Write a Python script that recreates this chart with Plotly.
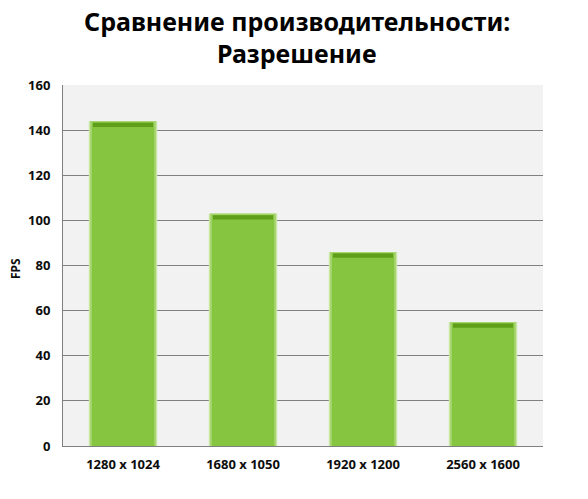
import plotly.graph_objects as go

resolutions = ["1280 x 1024", "1680 x 1050", "1920 x 1200", "2560 x 1600"]
fps = [144, 103, 86, 55]
y_ticks = [0, 20, 40, 60, 80, 100, 120, 140, 160]

TEXT = "#0d0d0d"
GRID = "#808080"
FONT = "Noto Sans, sans-serif"

fig = go.Figure()

# layered bars give the bevelled look: light edges, main body, dark top cap
layers = [
    {"width": 0.57, "color": "#c9e7a4", "trim": 0.0},
    {"width": 0.55, "color": "#a8d672", "trim": 0.0},
    {"width": 0.52, "color": "#86c540", "trim": 0.5},
]
for layer in layers:
    fig.add_trace(
        go.Bar(
            x=resolutions,
            y=[v - layer["trim"] for v in fps],
            width=layer["width"],
            marker={"color": layer["color"], "line": {"width": 0}},
            hoverinfo="skip",
        )
    )

fig.add_trace(
    go.Bar(
        x=resolutions,
        y=[1.9] * len(fps),
        base=[v - 2.6 for v in fps],
        width=0.5,
        marker={"color": "#5f9e18", "line": {"width": 0}},
        hovertemplate="%{x}: %{customdata} FPS<extra></extra>",
        customdata=fps,
    )
)

title_lines = ["Сравнение производительности:", "Разрешение"]
for text, y in zip(title_lines, [1.178, 1.09]):
    fig.add_annotation(
        text=f"<b>{text}</b>",
        xref="paper",
        yref="paper",
        x=0.487,
        y=y,
        xanchor="center",
        yanchor="middle",
        showarrow=False,
        font={"family": FONT, "size": 25, "color": "#000000"},
    )

fig.add_annotation(
    text="<b>FPS</b>",
    xref="paper",
    yref="paper",
    x=-0.1,
    y=0.49,
    xanchor="center",
    yanchor="middle",
    textangle=-90,
    showarrow=False,
    font={"family": FONT, "size": 12, "color": TEXT},
)

fig.update_layout(
    width=588,
    height=499,
    barmode="overlay",
    showlegend=False,
    paper_bgcolor="#ffffff",
    plot_bgcolor="#f2f2f2",
    margin={"l": 63, "r": 45, "t": 85, "b": 53, "autoexpand": False},
    font={"family": FONT, "color": TEXT, "size": 12},
    xaxis={
        "automargin": False,
        "showline": True,
        "linecolor": GRID,
        "linewidth": 1,
        "showgrid": False,
        "ticks": "",
        "tickfont": {"size": 13, "color": TEXT, "family": FONT, "weight": "bold"},
        "ticklabelstandoff": 6,
    },
    yaxis={
        "automargin": False,
        "range": [0, 160],
        "tickvals": y_ticks,
        "showline": True,
        "linecolor": GRID,
        "linewidth": 1,
        "showgrid": True,
        "gridcolor": GRID,
        "gridwidth": 1,
        "zeroline": False,
        "ticks": "",
        "tickfont": {"size": 13, "color": TEXT, "family": FONT, "weight": "bold"},
        "ticklabelstandoff": 9,
    },
)

# drop the default 8px body margin so the figure fills the window exactly
fig.write_html(
    "out.html",
    config={"displayModeBar": False},
    post_script="document.body.style.margin = '0';",
)
